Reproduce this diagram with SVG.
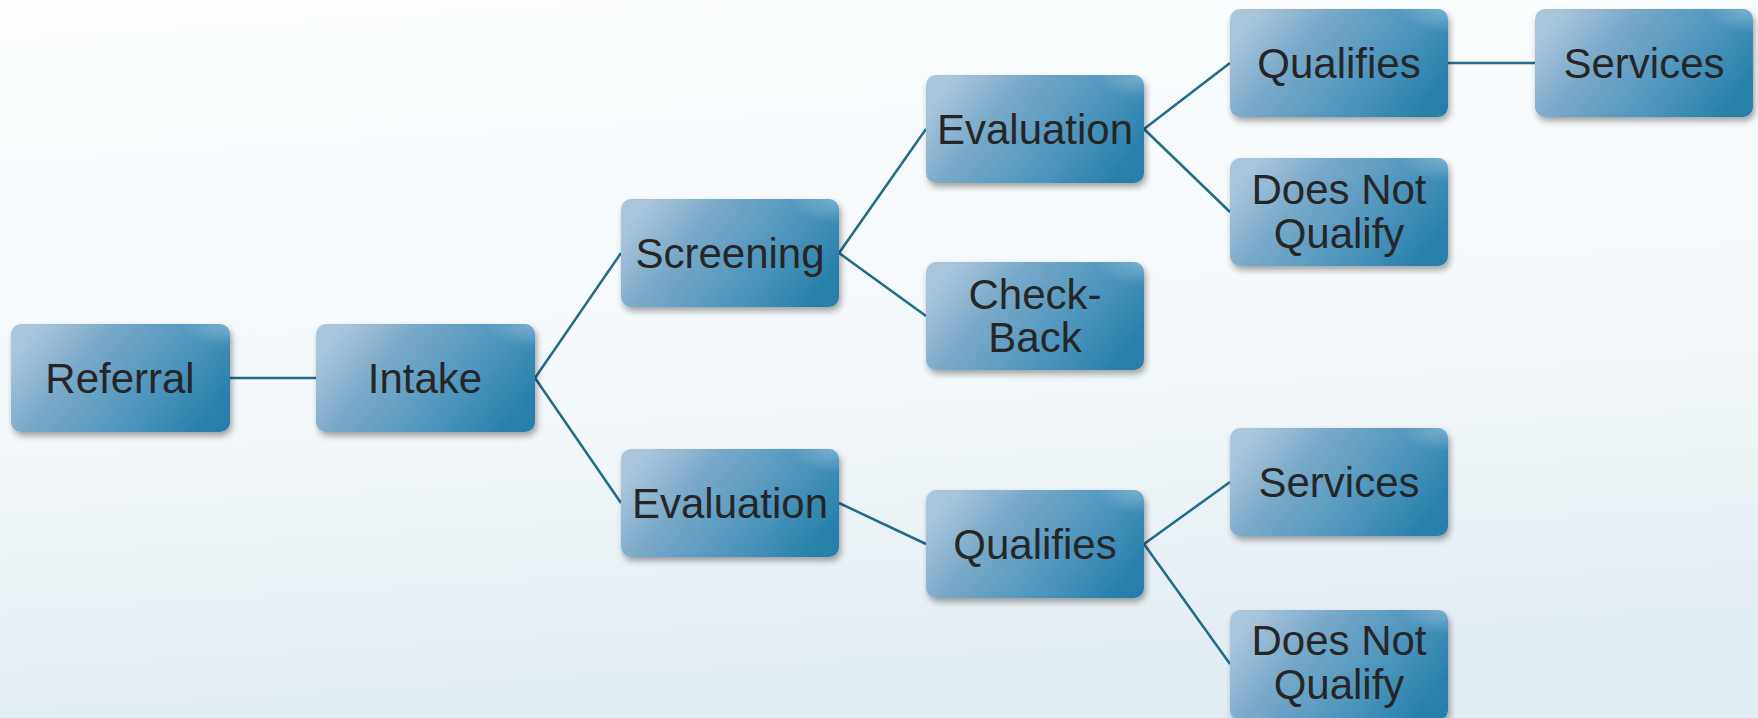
<svg xmlns="http://www.w3.org/2000/svg" width="1758" height="718" viewBox="0 0 1758 718">
<defs>
<linearGradient id="bg" x1="0" y1="0" x2="0.15" y2="1">
<stop offset="0" stop-color="#fbfdfe"/>
<stop offset="0.6" stop-color="#f3f8fa"/>
<stop offset="1" stop-color="#e2edf3"/>
</linearGradient>
<linearGradient id="box" x1="0" y1="0.3" x2="1" y2="0.7">
<stop offset="0" stop-color="#abc6db"/>
<stop offset="0.3" stop-color="#78a9c9"/>
<stop offset="0.7" stop-color="#4a93bc"/>
<stop offset="1" stop-color="#2580aa"/>
</linearGradient>
<radialGradient id="glare" cx="1" cy="0" r="0.22">
<stop offset="0" stop-color="#ffffff" stop-opacity="0.3"/>
<stop offset="1" stop-color="#ffffff" stop-opacity="0"/>
</radialGradient>
<filter id="sh" x="-10%" y="-10%" width="125%" height="130%">
<feDropShadow dx="2" dy="4" stdDeviation="3" flood-color="#000" flood-opacity="0.35"/>
</filter>
</defs>
<style>
.n rect.b{fill:url(#box);filter:url(#sh)}
.n rect.g{fill:url(#glare)}
.n text{font-family:"Liberation Sans",Arial,sans-serif;font-size:42px;fill:#262626;text-anchor:middle}
#connectors line{stroke:#216b8c;stroke-width:2.5}
</style>
<rect width="1758" height="718" fill="url(#bg)"/>
<g id="connectors">
<line x1="230" y1="378" x2="316" y2="378"/>
<line x1="535" y1="378" x2="621" y2="253"/>
<line x1="535" y1="378" x2="621" y2="503"/>
<line x1="839" y1="253" x2="926" y2="129"/>
<line x1="839" y1="253" x2="926" y2="316"/>
<line x1="1144" y1="129" x2="1230" y2="63"/>
<line x1="1144" y1="129" x2="1230" y2="212"/>
<line x1="1448" y1="63" x2="1535" y2="63"/>
<line x1="839" y1="503" x2="926" y2="544"/>
<line x1="1144" y1="544" x2="1230" y2="482"/>
<line x1="1144" y1="544" x2="1230" y2="664"/>
</g>
<g id="referral" class="n"><rect class="b" x="11" y="324" width="219" height="108" rx="10"/><rect class="g" x="11" y="324" width="219" height="108" rx="10"/><text x="120" y="393">Referral</text></g>
<g id="intake" class="n"><rect class="b" x="316" y="324" width="219" height="108" rx="10"/><rect class="g" x="316" y="324" width="219" height="108" rx="10"/><text x="425" y="393">Intake</text></g>
<g id="screening" class="n"><rect class="b" x="621" y="199" width="218" height="108" rx="10"/><rect class="g" x="621" y="199" width="218" height="108" rx="10"/><text x="730" y="268">Screening</text></g>
<g id="evaluation2" class="n"><rect class="b" x="621" y="449" width="218" height="108" rx="10"/><rect class="g" x="621" y="449" width="218" height="108" rx="10"/><text x="730" y="518">Evaluation</text></g>
<g id="evaluation1" class="n"><rect class="b" x="926" y="75" width="218" height="108" rx="10"/><rect class="g" x="926" y="75" width="218" height="108" rx="10"/><text x="1035" y="144">Evaluation</text></g>
<g id="checkback" class="n"><rect class="b" x="926" y="262" width="218" height="108" rx="10"/><rect class="g" x="926" y="262" width="218" height="108" rx="10"/><text x="1035" y="309">Check-</text><text x="1035" y="352">Back</text></g>
<g id="qualifies2" class="n"><rect class="b" x="926" y="490" width="218" height="108" rx="10"/><rect class="g" x="926" y="490" width="218" height="108" rx="10"/><text x="1035" y="559">Qualifies</text></g>
<g id="qualifies1" class="n"><rect class="b" x="1230" y="9" width="218" height="108" rx="10"/><rect class="g" x="1230" y="9" width="218" height="108" rx="10"/><text x="1339" y="78">Qualifies</text></g>
<g id="dnq1" class="n"><rect class="b" x="1230" y="158" width="218" height="108" rx="10"/><rect class="g" x="1230" y="158" width="218" height="108" rx="10"/><text x="1339" y="204">Does Not</text><text x="1339" y="248">Qualify</text></g>
<g id="services1" class="n"><rect class="b" x="1535" y="9" width="218" height="108" rx="10"/><rect class="g" x="1535" y="9" width="218" height="108" rx="10"/><text x="1644" y="78">Services</text></g>
<g id="services2" class="n"><rect class="b" x="1230" y="428" width="218" height="108" rx="10"/><rect class="g" x="1230" y="428" width="218" height="108" rx="10"/><text x="1339" y="497">Services</text></g>
<g id="dnq2" class="n"><rect class="b" x="1230" y="610" width="218" height="110" rx="10"/><rect class="g" x="1230" y="610" width="218" height="110" rx="10"/><text x="1339" y="655">Does Not</text><text x="1339" y="699">Qualify</text></g>
</svg>
